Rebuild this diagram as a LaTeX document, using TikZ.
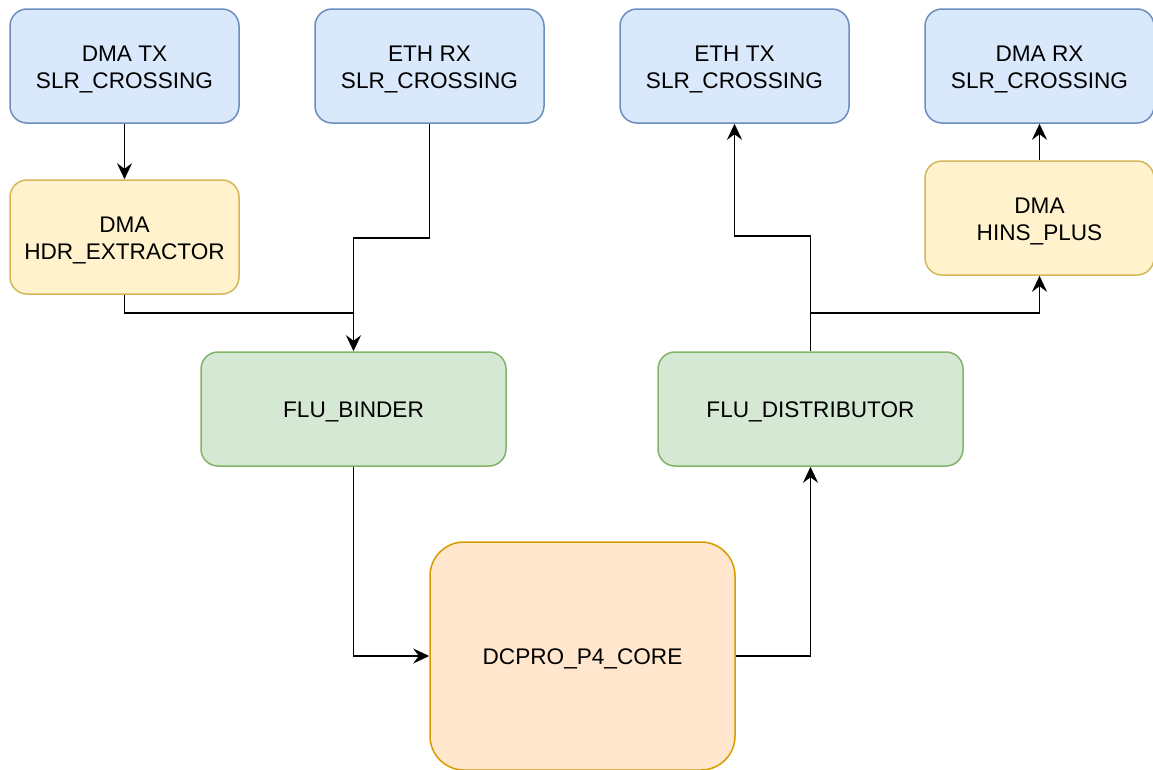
\documentclass[tikz,border=0pt]{standalone}
\usepackage{fontspec}
\setmainfont{Liberation Sans}
\usetikzlibrary{arrows.meta}
\definecolor{bluefill}{HTML}{DAE8FC}
\definecolor{bluedraw}{HTML}{6C8EBF}
\definecolor{yelfill}{HTML}{FFF2CC}
\definecolor{yeldraw}{HTML}{D6B656}
\definecolor{grnfill}{HTML}{D5E8D4}
\definecolor{grndraw}{HTML}{82B366}
\definecolor{orgfill}{HTML}{FFE6CC}
\definecolor{orgdraw}{HTML}{D79B00}
\tikzset{
  txt/.style={align=center, font=\fontsize{22.6}{27}\selectfont, inner sep=0pt, yshift=-3pt},
  blk/.style={rectangle, rounded corners=17pt, line width=1.5pt, inner sep=0pt},
  small/.style={blk, minimum width=229pt, minimum height=114pt},
  wide/.style={blk, minimum width=305pt, minimum height=114pt},
  bluebox/.style={small, fill=bluefill, draw=bluedraw},
  yelbox/.style={small, fill=yelfill, draw=yeldraw},
  grnbox/.style={wide, fill=grnfill, draw=grndraw},
  corebox/.style={blk, fill=orgfill, draw=orgdraw, rounded corners=34pt,
    minimum width=305pt, minimum height=228pt},
  flow/.style={line width=1.8pt, -{Stealth[length=16pt, width=15pt, inset=5.5pt]}},
  wire/.style={line width=1.8pt}
}
\begin{document}
\begin{tikzpicture}[x=1pt, y=-1pt]
\useasboundingbox (0,0) rectangle (1153,769);
% source side
\node[bluebox, label={[txt]center:DMA TX\\SLR\_CROSSING}] (dmatx) at (124.5,66) {};
\node[bluebox, label={[txt]center:ETH RX\\SLR\_CROSSING}] (ethrx) at (429.5,66) {};
\node[yelbox, label={[txt]center:DMA\\HDR\_EXTRACTOR}] (hdr) at (124.5,237) {};
\node[grnbox, label={[txt]center:FLU\_BINDER}] (binder) at (353.5,409) {};
% core
\node[corebox, label={[txt]center:DCPRO\_P4\_CORE}] (core) at (582.5,656) {};
% sink side
\node[grnbox, label={[txt]center:FLU\_DISTRIBUTOR}] (dist) at (810.5,409) {};
\node[bluebox, label={[txt]center:ETH TX\\SLR\_CROSSING}] (ethtx) at (734.5,66) {};
\node[bluebox, label={[txt]center:DMA RX\\SLR\_CROSSING}] (dmarx) at (1039.5,66) {};
\node[yelbox, label={[txt]center:DMA\\HINS\_PLUS}] (hins) at (1039.5,218) {};
% junction points
\coordinate (jin) at (353,313);
\coordinate (jout) at (811,313);
% connectors
\draw[flow] (dmatx.south) -- (hdr.north);
\draw[wire] (hdr.south) |- (jin);
\draw[flow] (ethrx.south) -- ++(0,114) -| (binder.north);
\draw[flow] (binder.south) |- (core.west);
\draw[flow] (core.east) -| (dist.south);
\draw[flow] (dist.north) -- ++(0,-115) -| (ethtx.south);
\draw[flow] (jout) -| (hins.south);
\draw[flow] (hins.north) -- (dmarx.south);
\end{tikzpicture}
\end{document}
